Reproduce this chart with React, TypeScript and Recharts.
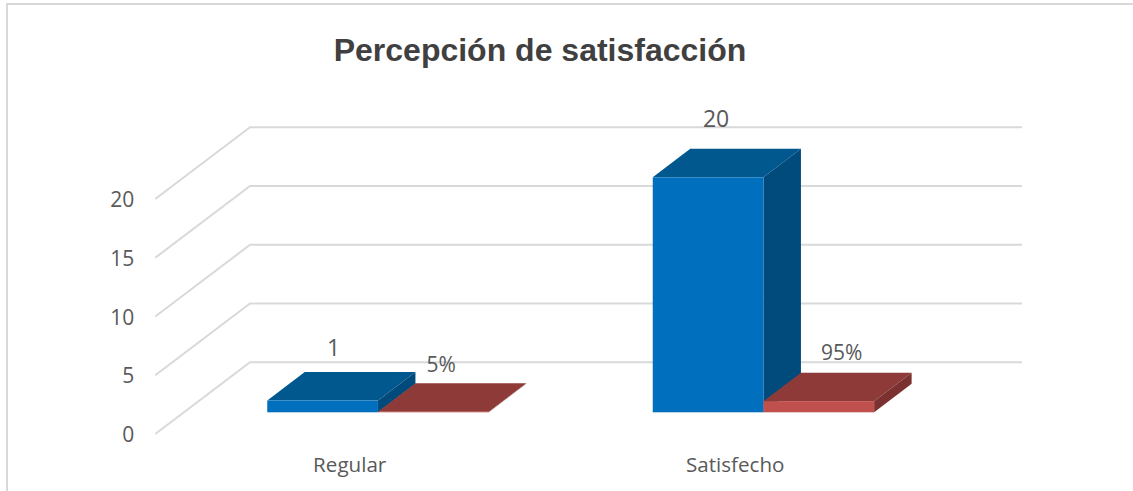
import React from 'react';
import { BarChart, Bar, XAxis, YAxis, CartesianGrid, LabelList } from 'recharts';

const categories = ['Regular', 'Satisfecho'];
const countValues = [1, 20];
const shareValues = [0.05, 0.95];
const yTicks = [0, 5, 10, 15, 20];
const chartTitle = 'Percepción de satisfacción';

const rows = categories.map((category, i) => ({
  category,
  count: countValues[i],
  share: shareValues[i],
}));

const DEPTH_X = 37.5;
const DEPTH_Y = 28.5;
const TEXT = '#595959';
const FONT = '"Open Sans", sans-serif';

const box3d = (front: string, top: string, side: string) => (p: any) => {
  const { x, y, width: w, height: h } = p;
  const r = x + w;
  const b = y + h;
  return (
    <g>
      <polygon points={`${x},${y} ${r},${y} ${r + DEPTH_X},${y - DEPTH_Y} ${x + DEPTH_X},${y - DEPTH_Y}`} fill={top} />
      <polygon points={`${r},${y} ${r + DEPTH_X},${y - DEPTH_Y} ${r + DEPTH_X},${b - DEPTH_Y} ${r},${b}`} fill={side} />
      <rect x={x} y={y} width={w} height={h} fill={front} />
    </g>
  );
};

const gridLine = (p: any) => {
  const { x1, x2, y1, key } = p;
  return (
    <path
      key={key}
      d={`M${x1 - 30},${y1 + 21.7} L${x1 + 64.75},${y1 - 50} L${x2 + 65.75},${y1 - 50}`}
      fill="none"
      stroke="#d9d9d9"
      strokeWidth={2}
    />
  );
};

const YTick = (p: any) => (
  <text x={p.x - 51} y={p.y + 29.7} textAnchor="end" fontFamily={FONT} fontSize={21} fill={TEXT}>
    {p.payload.value}
  </text>
);

const XTick = (p: any) => (
  <text x={p.x - 28.3} y={p.y + 59.3} textAnchor="middle" fontFamily={FONT} fontSize={20.6} fill={TEXT}>
    {p.payload.value}
  </text>
);

const countLabelShift = [
  { dx: 11, dy: -45 },
  { dx: 8, dy: -50.5 },
];
const shareLabelShift = [
  { dx: 8, dy: -40 },
  { dx: 23, dy: -41 },
];

const barLabel = (shifts: { dx: number; dy: number }[], size: number, format: (v: number) => string) => (p: any) => {
  const s = shifts[p.index];
  return (
    <text
      x={p.x + p.width / 2 + s.dx}
      y={p.y + s.dy}
      textAnchor="middle"
      fontFamily={FONT}
      fontSize={size}
      fill={TEXT}
    >
      {format(Number(p.value))}
    </text>
  );
};

export default function App() {
  return (
    <div style={{ position: 'absolute', left: 0, top: 0, width: 1133, height: 491, overflow: 'hidden', background: '#fff' }}>
      <div style={{ position: 'absolute', left: 6, top: 3, right: 0, bottom: 0, borderLeft: '2px solid #d9d9d9', borderTop: '2px solid #d9d9d9' }} />
      <BarChart
        width={1133}
        height={491}
        data={rows}
        barGap={0}
        barSize={110.7}
        margin={{ top: 177.3, right: 176.75, bottom: 48.7, left: 125.25 }}
        style={{ position: 'absolute', left: 0, top: 0 }}
      >
        <text x={540} y={60.5} textAnchor="middle" fontFamily='"Liberation Sans", Arial, sans-serif' fontWeight="bold" fontSize={32} fill="#404040">
          {chartTitle}
        </text>
        <CartesianGrid vertical={false} horizontal={gridLine} horizontalValues={yTicks} />
        <XAxis dataKey="category" height={30} axisLine={false} tickLine={false} tickSize={0} tickMargin={0} interval={0} tick={XTick} />
        <YAxis type="number" domain={[0, 20]} ticks={yTicks} width={60} axisLine={false} tickLine={false} tickSize={0} tickMargin={0} tick={YTick} />
        <Bar dataKey="count" fill="#0070C0" isAnimationActive={false} shape={box3d('#0070BE', '#00588F', '#004B7C')}>
          <LabelList dataKey="count" content={barLabel(countLabelShift, 23, (v) => String(v))} />
        </Bar>
        <Bar dataKey="share" fill="#C0504D" isAnimationActive={false} shape={box3d('#C0504D', '#8E3A39', '#7A3130')}>
          <LabelList dataKey="share" content={barLabel(shareLabelShift, 21, (v) => `${Math.round(v * 100)}%`)} />
        </Bar>
      </BarChart>
    </div>
  );
}
